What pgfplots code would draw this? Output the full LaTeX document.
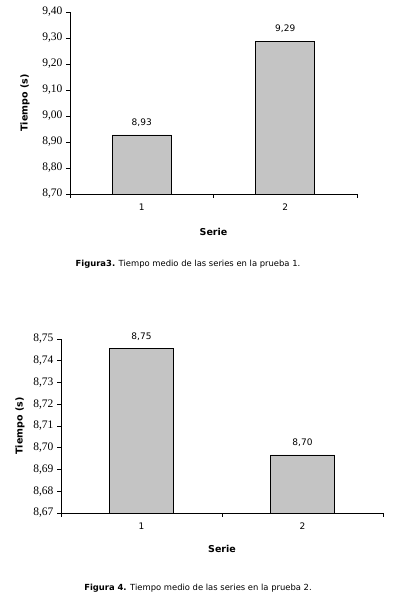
\documentclass[border=0pt]{standalone}
\usepackage{fontspec}
\setmainfont{Liberation Serif}
\newfontfamily\dv{DejaVu Sans}
\usepackage{pgfplots}
\pgfplotsset{compat=1.18}
\definecolor{barfill}{RGB}{196,196,196}
\pgfplotsset{
  mybar/.style={
    scale only axis,
    anchor=south west,
    axis x line*=bottom, axis y line*=left,
    axis line style={-, line width=0.8pt},
    xmin=0.5, xmax=2.5,
    xtick={0.5,1.5,2.5}, xticklabels={},
    extra x ticks={1,2}, extra x tick labels={1,2},
    extra x tick style={major tick length=0pt},
    tick align=outside, major tick length=4pt,
    tick style={black, line width=0.8pt},
    /pgf/number format/.cd, fixed, fixed zerofill, precision=2, use comma, assume math mode=true,
    /pgfplots/.cd,
    tick label style={font=\fontsize{11.5}{12}\selectfont},
    xticklabel style={font=\dv\fontsize{9}{10}\selectfont, yshift=-6pt},
    ybar, bar shift=0pt,
    nodes near coords,
    every node near coord/.append style={font=\dv\fontsize{9}{10}\selectfont, yshift=5pt, black},
    xlabel={\textbf{Serie}},
    ylabel={\textbf{Tiempo (s)}},
    xlabel style={font=\dv\fontsize{9.5}{10}\selectfont, at={(rel axis cs:0.5,0)}, anchor=center},
    ylabel style={font=\dv\fontsize{9.5}{10}\selectfont, anchor=center, rotate=0},
    clip=true,
  }
}
\begin{document}
\begin{tikzpicture}[x=1pt,y=1pt]
\path (0pt,0pt) rectangle (394pt,599pt);
\begin{axis}[mybar, at={(70pt,405pt)}, width=287pt, height=182pt,
  ymin=8.7, ymax=9.4, ytick distance=0.1, bar width=59pt,
  xlabel style={yshift=-38pt}, ylabel style={at={(rel axis cs:-0.157,0.5)}}]
\addplot[fill=barfill, draw=black, line width=0.8pt] coordinates {(1,8.927) (2,9.288)};
\end{axis}
\node[font=\dv\fontsize{8.4}{9}\selectfont] at (188pt,335pt) {\textbf{Figura3.} Tiempo medio de las series en la prueba 1.};
\begin{axis}[mybar, at={(61pt,86pt)}, width=322pt, height=174pt,
  ymin=8.67, ymax=8.75, ytick distance=0.01, bar width=64pt,
  xlabel style={yshift=-36pt}, ylabel style={at={(rel axis cs:-0.127,0.5)}}]
\addplot[fill=barfill, draw=black, line width=0.8pt] coordinates {(1,8.7455) (2,8.6967)};
\end{axis}
\node[font=\dv\fontsize{8.4}{9}\selectfont] at (198pt,11pt) {\textbf{Figura 4.} Tiempo medio de las series en la prueba 2.};
\end{tikzpicture}
\end{document}
